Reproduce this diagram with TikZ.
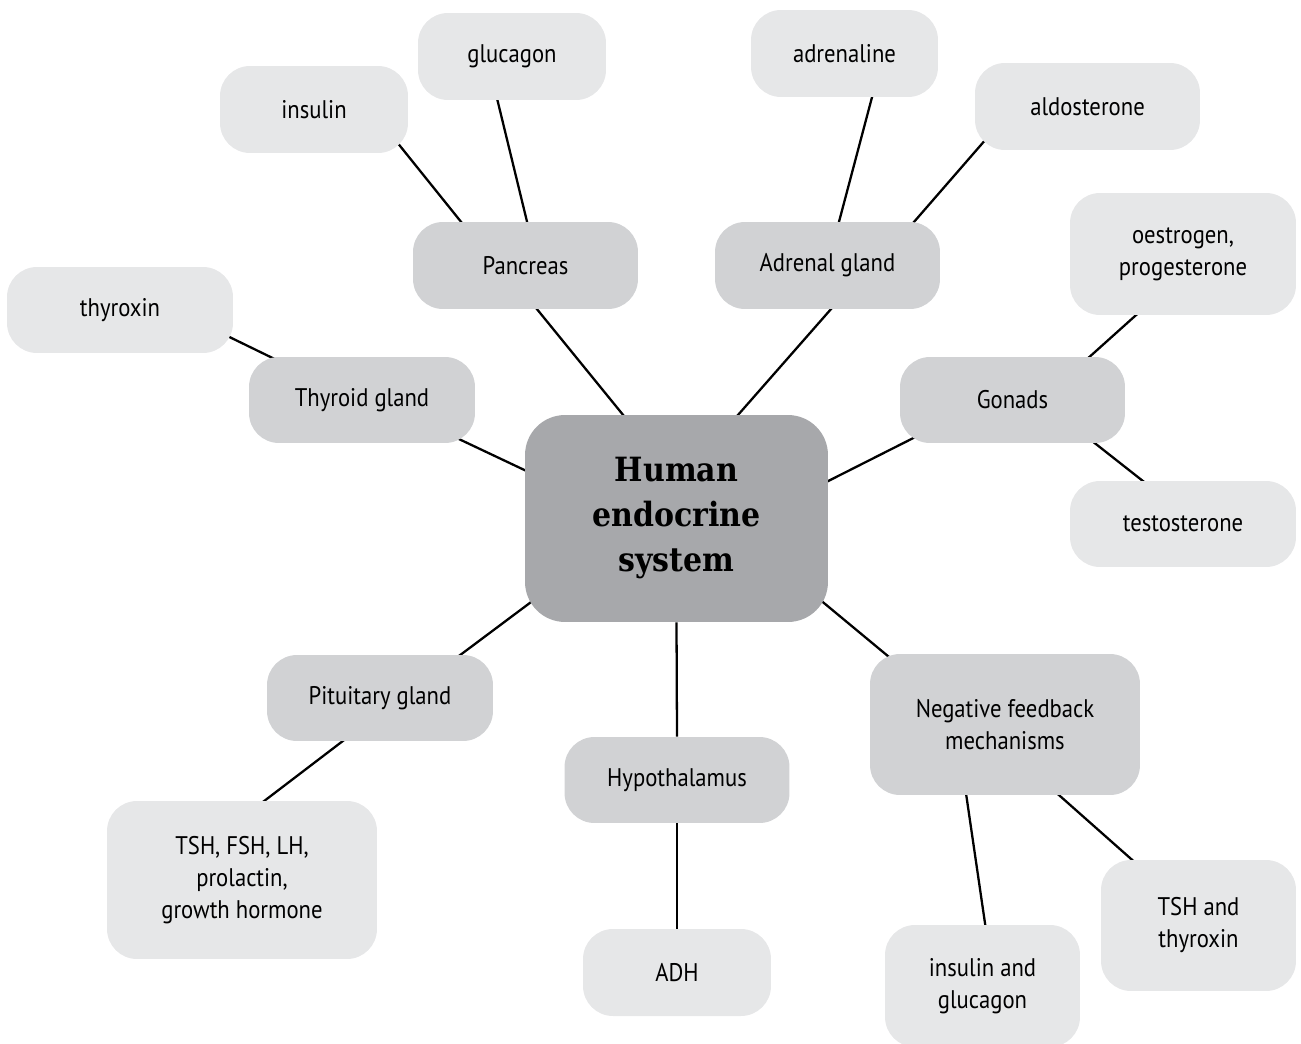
\documentclass[tikz,border=0pt]{standalone}
\usepackage{fontspec}
\usepackage{tikz}
\usetikzlibrary{calc}
\newfontfamily\boxfont{PT Sans}[FakeStretch=0.89]
\newfontfamily\titlefont{DejaVu Serif}[FakeStretch=0.9]
\definecolor{hubgray}{HTML}{A7A8AB}
\definecolor{glandgray}{HTML}{D1D2D4}
\definecolor{leafgray}{HTML}{E6E7E8}
\pgfdeclarelayer{bg}
\pgfsetlayers{bg,main}

\begin{document}
\begin{tikzpicture}[
    x=0.02cm, y=-0.02cm,
    box/.style={rounded corners=0.6cm, align=center, inner sep=0pt,
      font=\boxfont\fontsize{14.5}{18.2}\selectfont},
    leaf/.style={box, fill=leafgray},
    gland/.style={box, fill=glandgray},
    size/.style 2 args={minimum width=#1, minimum height=#2},
    hub/.style={rounded corners=0.8cm, fill=hubgray, align=center, inner sep=0pt,
      font=\titlefont\bfseries\fontsize{19}{25.6}\selectfont},
    link/.style={line width=1.3pt}
  ]
  \useasboundingbox (0,0) rectangle (1301,1044);

  \node[hub, size={6.06cm}{4.14cm}] (human) at (676.5,518.5) {Human\\endocrine\\system};

  \node[gland, size={4.5cm}{1.74cm}] (pancreas) at (525.5,265.5) {Pancreas};
  \node[leaf, size={3.76cm}{1.74cm}] (insulin) at (314,109.5) {insulin};
  \node[leaf, size={3.76cm}{1.74cm}] (glucagon) at (512,56.5) {glucagon};

  \node[gland, size={4.5cm}{1.74cm}] (adrenal) at (827.5,265.5) {Adrenal gland};
  \node[leaf, size={3.74cm}{1.74cm}] (adrenaline) at (844.5,53.5) {adrenaline};
  \node[leaf, size={4.5cm}{1.74cm}] (aldosterone) at (1087.5,106.5) {aldosterone};

  \node[gland, size={4.5cm}{1.72cm}] (gonads) at (1012.5,400) {Gonads};
  \node[leaf, size={4.52cm}{2.44cm}] (oestrogen) at (1183,254) {oestrogen,\\progesterone};
  \node[leaf, size={4.52cm}{1.72cm}] (testosterone) at (1183,524) {testosterone};

  \node[gland, size={4.52cm}{1.72cm}] (thyroid) at (362,400) {Thyroid gland};
  \node[leaf, size={4.52cm}{1.72cm}] (thyroxin) at (120,310) {thyroxin};

  \node[gland, size={4.52cm}{1.72cm}] (pituitary) at (380,698) {Pituitary gland};
  \node[leaf, size={5.4cm}{3.16cm}] (tshfsh) at (242,880) {TSH, FSH, LH,\\prolactin,\\growth hormone};

  \node[gland, size={4.5cm}{1.72cm}] (hypo) at (677,780) {Hypothalamus};
  \node[leaf, size={3.76cm}{1.74cm}] (adh) at (677,972.5) {ADH};

  \node[gland, size={5.4cm}{2.82cm}] (negative) at (1005,724.5) {Negative feedback\\mechanisms};
  \node[leaf, size={3.9cm}{2.44cm}] (insgluc) at (982.5,986) {insulin and\\glucagon};
  \node[leaf, size={3.9cm}{2.62cm}] (tshthy) at (1198.5,925.5) {TSH and\\thyroxin};

  \begin{pgfonlayer}{bg}
    \draw[link] ($(insulin.south east)+(-12,-12)$) -- ($(pancreas.north)+(-63,2)$);
    \draw[link] ($(glucagon.south)+(-15,-2)$) -- ($(pancreas.north)+(2,2)$);
    \draw[link] ($(adrenaline.south)+(28,-2)$) -- ($(adrenal.north)+(11,2)$);
    \draw[link] ($(aldosterone.south west)+(12,-12)$) -- ($(adrenal.north)+(85,2)$);
    \draw[link] ($(oestrogen.south)+(-45,-2)$) -- ($(gonads.north)+(75,2)$);
    \draw[link] ($(gonads.south)+(80,-2)$) -- ($(testosterone.north)+(-38,2)$);
    \draw[link] ($(thyroxin.east)+(-8,25)$) -- ($(thyroid.north)+(-84,4)$);
    \draw[link] ($(pancreas.south)+(10,-2)$) -- ($(human.north)+(-52,2)$);
    \draw[link] ($(adrenal.south)+(5,-2)$) -- ($(human.north)+(60,2)$);
    \draw[link] ($(thyroid.south east)+(-20,-6)$) -- ($(human.west)+(5,-46)$);
    \draw[link] ($(gonads.south west)+(15,-6)$) -- ($(human.east)+(-5,-35)$);
    \draw[link] ($(human.south west)+(10,-23)$) -- ($(pituitary.north)+(78,2)$);
    \draw[link] ($(human.south east)+(-10,-24)$) -- ($(negative.north west)+(25,8)$);
    \draw[link] (human.south) -- (hypo.north);
    \draw[link] (hypo.south) -- (adh.north);
    \draw[link] ($(pituitary.south)+(-35,-2)$) -- ($(tshfsh.north)+(20,2)$);
    \draw[link] ($(negative.south)+(-39,-2)$) -- ($(insgluc.north)+(3,2)$);
    \draw[link] ($(negative.south)+(52,-2)$) -- ($(tshthy.north west)+(38,6)$);
  \end{pgfonlayer}
\end{tikzpicture}
\end{document}
